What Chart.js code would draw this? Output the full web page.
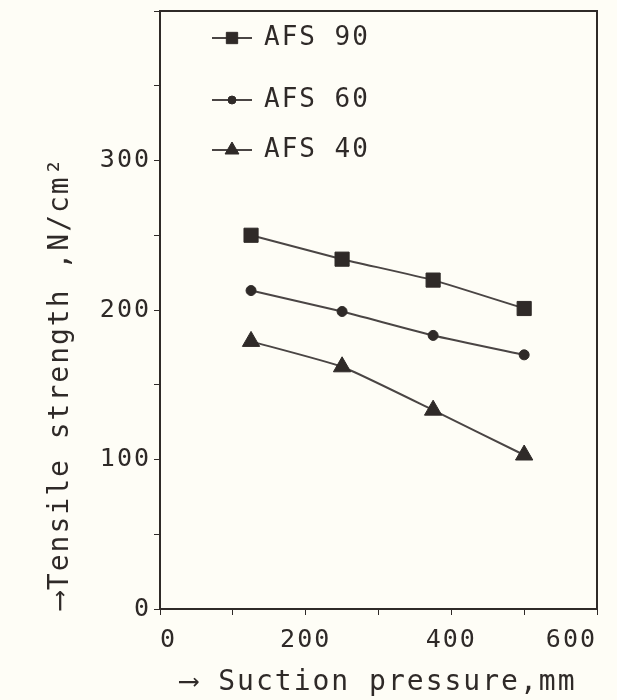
<!DOCTYPE html>
<html lang="en">
<head>
  <meta charset="UTF-8" />
  <title>Tensile strength vs suction pressure</title>
  <script src="https://cdn.jsdelivr.net/npm/chart.js"></script>
  <style>
    html, body {
      margin: 0;
      padding: 0;
      background: #fefdf6;
    }
    #wrap {
      width: 617px;
      height: 700px;
    }
  </style>
</head>
<body>
  <div id="wrap"><canvas id="chart" width="617" height="700"></canvas></div>

  <script>
    // values
    const pressure = [125, 250, 375, 500];
    const afs90 = [250, 234, 220, 201];
    const afs60 = [213, 199, 183, 170];
    const afs40 = [179, 162, 133, 103];
    const seriesNames = ["AFS 90", "AFS 60", "AFS 40"];
    const xLabelled = [0, 200, 400, 600];
    const yLabelled = [0, 100, 200, 300];

    const ink = "#2f2a28";
    const lineCol = "#4a4544";
    const mono = "'DejaVu Sans Mono', monospace";

    const toPoints = ys => ys.map((y, i) => ({ x: pressure[i], y: y }));

    // typewriter-ish spacing on all text
    const spacing = {
      id: "spacing",
      beforeLayout(chart) { chart.ctx.letterSpacing = "2px"; },
      beforeDraw(chart) { chart.ctx.letterSpacing = "2px"; }
    };

    // fill background + frame round the plot
    const frame = {
      id: "frame",
      beforeDraw(chart) {
        const ctx = chart.ctx;
        ctx.save();
        ctx.fillStyle = "#fefdf6";
        ctx.fillRect(0, 0, chart.width, chart.height);
        ctx.restore();
      },
      afterDatasetsDraw(chart) {
        const a = chart.chartArea;
        const ctx = chart.ctx;
        ctx.save();
        ctx.strokeStyle = ink;
        ctx.lineWidth = 2;
        ctx.strokeRect(a.left, a.top, a.right - a.left, a.bottom - a.top);
        ctx.restore();
      }
    };

    // legend drawn inside the plot, line through marker
    const legendRows = [38, 100, 150];
    const insideLegend = {
      id: "insideLegend",
      afterDraw(chart) {
        const ctx = chart.ctx;
        ctx.save();
        ctx.letterSpacing = "2px";
        chart.data.datasets.forEach((ds, i) => {
          const y = legendRows[i];
          ctx.strokeStyle = lineCol;
          ctx.lineWidth = 2;
          ctx.beginPath();
          ctx.moveTo(212, y);
          ctx.lineTo(252, y);
          ctx.stroke();
          ctx.fillStyle = ink;
          ctx.strokeStyle = ink;
          ctx.lineWidth = 1;
          Chart.helpers.drawPoint(ctx, {
            pointStyle: ds.pointStyle,
            radius: ds.pointRadius * 0.8,
            rotation: 0,
            borderWidth: 1
          }, 232, y);
          ctx.fillStyle = ink;
          ctx.font = "26px " + mono;
          ctx.textBaseline = "middle";
          ctx.textAlign = "left";
          ctx.fillText(ds.label, 264, y);
        });
        ctx.restore();
      }
    };

    new Chart(document.getElementById("chart"), {
      type: "line",
      data: {
        datasets: [
          {
            label: seriesNames[0],
            data: toPoints(afs90),
            pointStyle: "rect",
            pointRadius: 10
          },
          {
            label: seriesNames[1],
            data: toPoints(afs60),
            pointStyle: "circle",
            pointRadius: 5
          },
          {
            label: seriesNames[2],
            data: toPoints(afs40),
            pointStyle: "triangle",
            pointRadius: 10
          }
        ].map(ds => Object.assign({
          borderColor: lineCol,
          borderWidth: 2,
          backgroundColor: ink,
          pointBackgroundColor: ink,
          pointBorderColor: ink,
          pointBorderWidth: 1,
          tension: 0.15,
          fill: false
        }, ds))
      },
      options: {
        responsive: false,
        animation: false,
        layout: {
          padding: { left: 44, right: 20, top: 6, bottom: 0 }
        },
        plugins: {
          legend: { display: false },
          tooltip: { enabled: false }
        },
        scales: {
          x: {
            type: "linear",
            min: 0,
            max: 600,
            ticks: {
              stepSize: 100,
              color: ink,
              font: { family: mono, size: 25 },
              padding: 10,
              align: "inner",
              maxRotation: 0,
              callback: v => xLabelled.includes(v) ? v : ""
            },
            grid: {
              drawOnChartArea: false,
              drawTicks: true,
              tickLength: 6,
              color: ink
            },
            border: { color: ink, width: 2 },
            title: {
              display: true,
              text: "\u27F6 Suction pressure,mm",
              color: ink,
              font: { family: mono, size: 28 },
              padding: { top: 0, bottom: 0 }
            },
            afterFit: s => {
              s.height = 91;
              s.paddingLeft = 0;
              s.paddingRight = 0;
            }
          },
          y: {
            min: 0,
            max: 400,
            ticks: {
              stepSize: 50,
              color: ink,
              font: { family: mono, size: 25 },
              padding: 3,
              callback: v => yLabelled.includes(v) ? v : ""
            },
            grid: {
              drawOnChartArea: false,
              drawTicks: true,
              tickLength: 6,
              color: ink
            },
            border: { color: ink, width: 2 },
            title: {
              display: true,
              text: "\u27F6Tensile strength ,N/cm\u00B2",
              align: "start",
              color: ink,
              font: { family: mono, size: 28 },
              padding: { top: 0, bottom: 0 }
            },
            afterFit: s => {
              s.width = 116;
              s.paddingTop = 0;
              s.paddingBottom = 0;
            }
          }
        }
      },
      plugins: [spacing, frame, insideLegend]
    });
  </script>
</body>
</html>
